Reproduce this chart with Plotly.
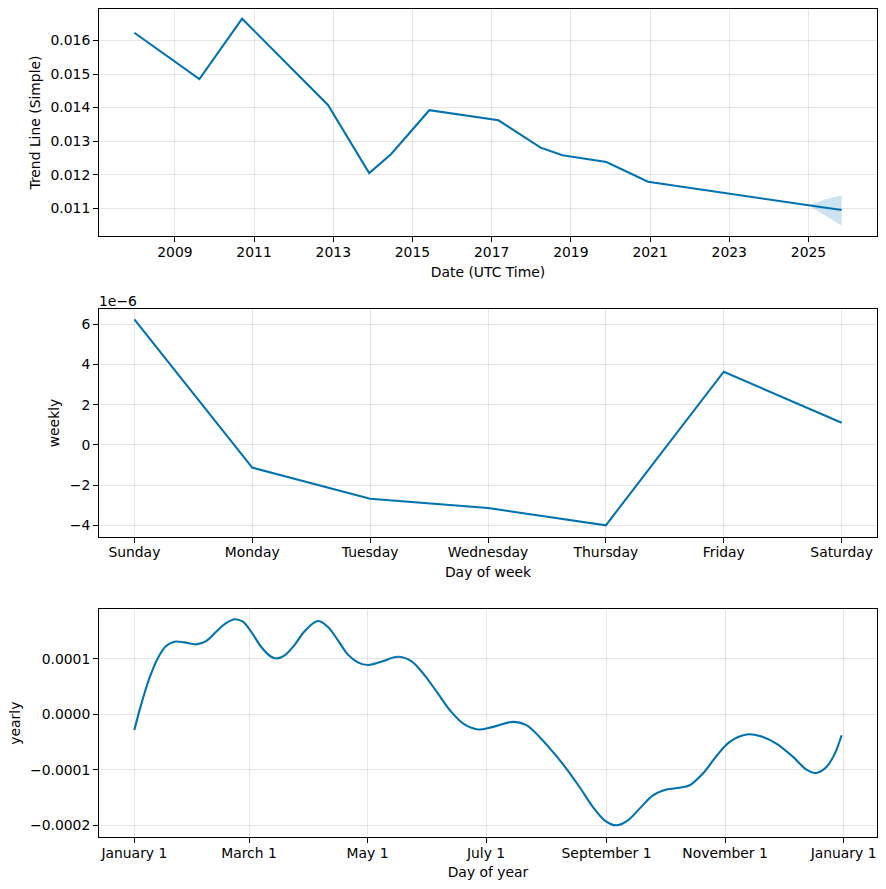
import datetime as dt
import plotly.graph_objects as go

# ---------------- data ----------------
trend_dates = ["2007-12-24", "2009-08-15", "2010-09-13", "2012-11-13", "2013-11-28",
               "2014-06-17", "2015-06-06", "2017-03-04", "2018-03-28", "2018-10-16",
               "2019-11-25", "2020-12-13", "2025-01-01", "2025-11-03"]
trend_values = [0.01623, 0.014848, 0.016648, 0.01408, 0.01205,
                0.01261, 0.013922, 0.013622, 0.012806, 0.01258,
                0.01238, 0.01179, 0.01109, 0.010946]
band_dates = ["2025-01-01", "2025-06-01", "2025-11-03"]
band_upper = [0.01109, 0.01126, 0.01139]
band_lower = [0.01109, 0.01080, 0.01048]

week_days = ["Sunday", "Monday", "Tuesday", "Wednesday", "Thursday", "Friday", "Saturday"]
weekly_values = [6.25e-6, -1.13e-6, -2.68e-6, -3.14e-6, -4.0e-6, 3.64e-6, 1.10e-6]
weekly_tickvals = [-4e-6, -2e-6, 0, 2e-6, 4e-6, 6e-6]
weekly_ticktext = ["\u22124", "\u22122", "0", "2", "4", "6"]

year_days = [0, 3.4, 7.7, 12.0, 16.3, 20.6, 25.7, 31.8, 36.9, 42.1, 46.3, 51.5,
             55.8, 60.1, 65.2, 70.4, 73.5, 77.2, 82.4, 87.5, 94.4, 99.5, 104.7,
             109.8, 115, 120.1, 127, 135.6, 142.5, 149.3, 156.2, 163.1, 169.9,
             176.8, 184.5, 194.8, 201.7, 208.5, 215.4, 222.3, 229.1, 236, 242,
             248, 254, 260, 266.9, 273.8, 280.6, 285.8, 292.6, 299.5, 306.4, 315,
             321.9, 330.4, 339, 345.9, 350.7, 356.2, 360.5, 364]
yearly_values = [-0.28e-4, 0.166e-4, 0.646e-4, 1.006e-4, 1.228e-4, 1.306e-4, 1.294e-4,
                 1.259e-4, 1.318e-4, 1.486e-4, 1.619e-4, 1.709e-4, 1.666e-4, 1.486e-4,
                 1.216e-4, 1.036e-4, 1.006e-4, 1.054e-4, 1.246e-4, 1.49e-4, 1.678e-4,
                 1.576e-4, 1.336e-4, 1.079e-4, 0.935e-4, 0.886e-4, 0.945e-4, 1.036e-4,
                 0.958e-4, 0.706e-4, 0.376e-4, 0.045e-4, -0.182e-4, -0.272e-4,
                 -0.225e-4, -0.135e-4, -0.194e-4, -0.405e-4, -0.675e-4, -0.974e-4,
                 -1.306e-4, -1.666e-4, -1.905e-4, -1.995e-4, -1.905e-4, -1.695e-4,
                 -1.455e-4, -1.352e-4, -1.32e-4, -1.275e-4, -1.064e-4, -0.753e-4,
                 -0.495e-4, -0.362e-4, -0.387e-4, -0.524e-4, -0.765e-4, -0.992e-4,
                 -1.053e-4, -0.945e-4, -0.704e-4, -0.375e-4]
year_tick_dates = ["2017-01-01", "2017-03-01", "2017-05-01", "2017-07-01",
                   "2017-09-01", "2017-11-01", "2018-01-01"]
year_tick_text = ["January 1", "March 1", "May 1", "July 1",
                  "September 1", "November 1", "January 1"]

# ---------------- styling ----------------
LINE = "#0072B2"
BAND = "rgba(0,114,178,0.2)"
GRID = "rgba(128,128,128,0.2)"
FONT = dict(family="DejaVu Sans", size=13.9, color="black")

base = dt.datetime(2017, 1, 1)
year_dates = [base + dt.timedelta(days=d) for d in year_days]

fig = go.Figure()
fig.add_trace(go.Scatter(x=band_dates, y=band_lower, mode="lines", line=dict(width=0),
                         showlegend=False, xaxis="x", yaxis="y", hoverinfo="skip"))
fig.add_trace(go.Scatter(x=band_dates, y=band_upper, mode="lines", line=dict(width=0),
                         fill="tonexty", fillcolor=BAND, showlegend=False,
                         xaxis="x", yaxis="y", hoverinfo="skip"))
fig.add_trace(go.Scatter(x=trend_dates, y=trend_values, mode="lines",
                         line=dict(color=LINE, width=2.08), showlegend=False,
                         xaxis="x", yaxis="y"))
fig.add_trace(go.Scatter(x=week_days, y=weekly_values, mode="lines",
                         line=dict(color=LINE, width=2.08), showlegend=False,
                         xaxis="x2", yaxis="y2"))
fig.add_trace(go.Scatter(x=year_dates, y=yearly_values, mode="lines",
                         line=dict(color=LINE, width=2.08, shape="spline", smoothing=1.0),
                         showlegend=False, xaxis="x3", yaxis="y3"))

common = dict(showline=True, linecolor="black", linewidth=1.1, mirror=True,
              ticks="outside", ticklen=4.9, tickwidth=1.1, tickcolor="black",
              showgrid=True, gridcolor=GRID, gridwidth=1, zeroline=False,
              tickfont=FONT, automargin=False)
xcommon = dict(common, ticklabelstandoff=-2)

fig.update_layout(
    width=886, height=889,
    margin=dict(l=99, r=9, t=9, b=52),
    paper_bgcolor="white", plot_bgcolor="white",
    font=FONT,
    xaxis=dict(xcommon, anchor="y", domain=[0, 1], type="date",
               range=["2007-02-01", "2026-09-25"], tick0="2009-01-01", dtick="M24",
               tickformat="%Y",
               title=dict(text="Date (UTC Time)", font=FONT, standoff=8)),
    yaxis=dict(common, anchor="x", domain=[0.7258, 1.0], range=[0.010173, 0.016937],
               tickformat=".3f", dtick=0.001, tick0=0.011,
               title=dict(text="Trend Line (Simple)", font=FONT, standoff=6)),
    xaxis2=dict(xcommon, anchor="y2", domain=[0, 1], type="category",
                range=[-0.3, 6.3],
                title=dict(text="Day of week", font=FONT, standoff=7)),
    yaxis2=dict(common, anchor="x2", domain=[0.3627, 0.6373], range=[-4.567e-6, 6.746e-6],
                tickvals=weekly_tickvals, ticktext=weekly_ticktext,
                title=dict(text="weekly", font=FONT, standoff=6)),
    xaxis3=dict(xcommon, anchor="y3", domain=[0, 1], type="date",
                range=[base + dt.timedelta(days=-18.2), base + dt.timedelta(days=382.2)],
                tickvals=year_tick_dates, ticktext=year_tick_text,
                title=dict(text="Day of year", font=FONT, standoff=7)),
    yaxis3=dict(common, anchor="x3", domain=[0.0, 0.275], range=[-2.205e-4, 1.889e-4],
                tickformat=".4f", dtick=1e-4, tick0=0,
                title=dict(text="yearly", font=FONT, standoff=6)),
)

fig.add_annotation(text="1e\u22126", xref="x2 domain", yref="y2 domain", x=0, y=1,
                   xanchor="left", yanchor="bottom", showarrow=False, font=FONT,
                   xshift=-2, yshift=-2)

fig.write_html("out.html", config={"displayModeBar": False},
               post_script="document.body.style.margin='0';document.body.style.overflow='hidden';")
